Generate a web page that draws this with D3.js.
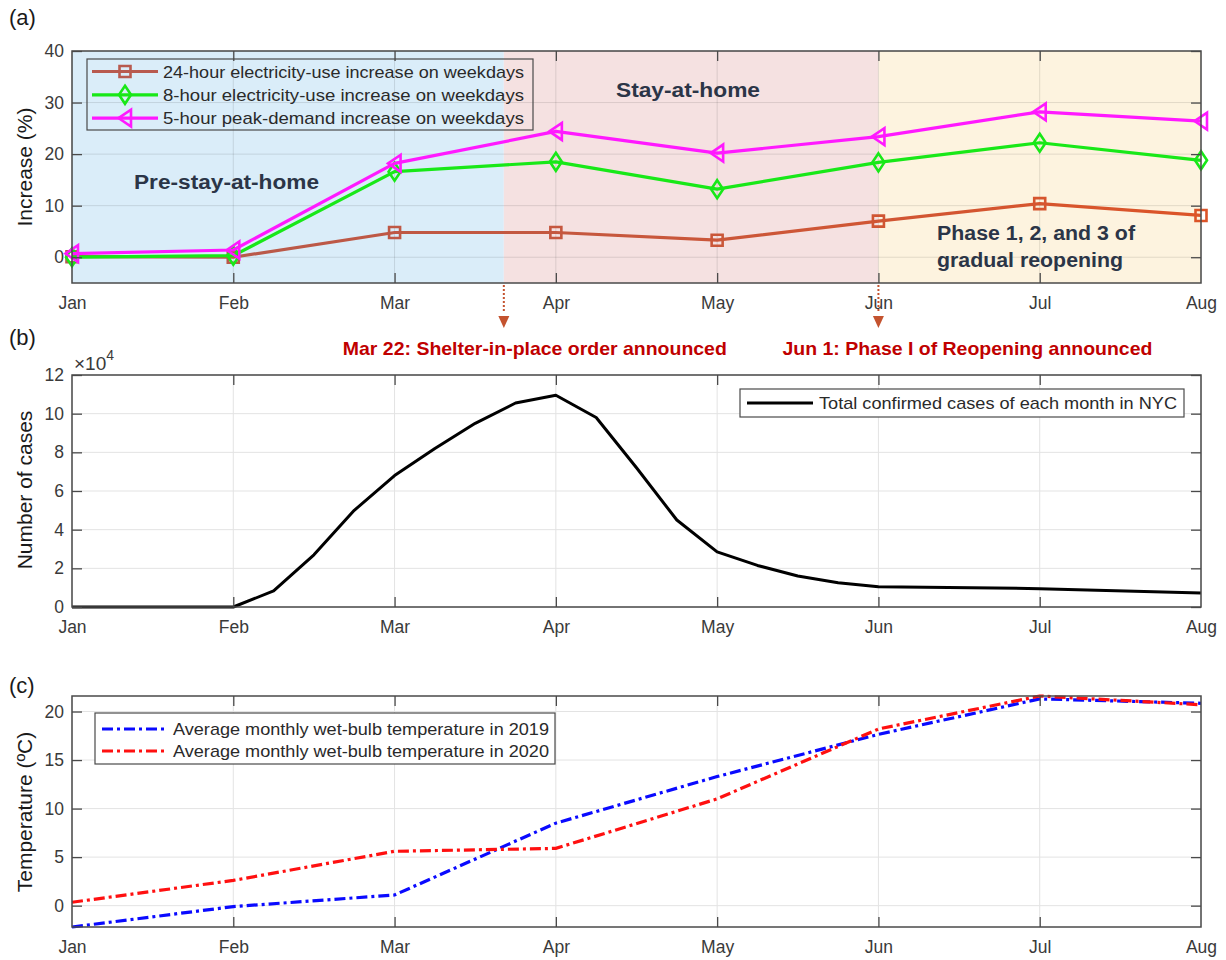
<!DOCTYPE html>
<html>
<head>
<meta charset="utf-8">
<script src="https://cdn.jsdelivr.net/npm/d3@7"></script>
<style>
  body { margin: 0; background: #fff; }
  svg { display: block; font-family: "Liberation Sans", Arial, sans-serif; }
</style>
</head>
<body>
<svg id="fig" width="1226" height="960"></svg>
<script>
// ---------- data ----------
const months = ["Jan", "Feb", "Mar", "Apr", "May", "Jun", "Jul", "Aug"];

// (a) electricity-use increase on weekdays (%)
const use24h  = [0.1, 0.0, 4.8, 4.8, 3.3, 7.0, 10.4, 8.1];
const use8h   = [0.0, 0.3, 16.6, 18.5, 13.2, 18.4, 22.2, 18.8];
const peak5h  = [0.7, 1.4, 18.2, 24.4, 20.2, 23.4, 28.2, 26.4];
const seriesNamesA = [
  "24-hour electricity-use increase on weekdays",
  "8-hour electricity-use increase on weekdays",
  "5-hour peak-demand increase on weekdays"
];
const yTicksA = [0, 10, 20, 30, 40];

// policy phases (month index, fractional): Mar 22 and Jun 1
const shelterStart = 2 + 21 / 31;
const reopenStart = 5;

// (b) confirmed cases in NYC (x 10^4), month index
const casesT = [0, 1, 1.25, 1.5, 1.75, 2, 2.25, 2.5, 2.75, 3, 3.25, 3.5, 3.75, 4, 4.25, 4.5, 4.75, 5, 6, 7];
const casesV = [0, 0, 0.83, 2.7, 5.0, 6.8, 8.2, 9.5, 10.55, 10.95, 9.8, 7.2, 4.5, 2.85, 2.15, 1.6, 1.25, 1.05, 0.95, 0.72];
const yTicksB = [0, 2, 4, 6, 8, 10, 12];

// (c) average monthly wet-bulb temperature (°C)
const wetBulb2019 = [-2.2, -0.1, 1.1, 8.5, 13.3, 17.65, 21.3, 20.85];
const wetBulb2020 = [0.35, 2.6, 5.6, 5.9, 11.0, 18.2, 21.6, 20.7];
const yTicksC = [0, 5, 10, 15, 20];

// ---------- layout ----------
const svg = d3.select("#fig");
const L = 72, R = 1201;
const x = d3.scaleLinear().domain([0, months.length - 1]).range([L, R]);
const axisColor = "#4a4a4a";
const tickText = "#3a3a3a";

function frame(g, y, yTicks, top, bottom, gridColor) {
  // grid
  g.append("g").selectAll("line.vg").data(d3.range(months.length)).join("line")
    .attr("x1", d => x(d)).attr("x2", d => x(d))
    .attr("y1", top).attr("y2", bottom)
    .attr("stroke", gridColor).attr("stroke-width", 1);
  g.append("g").selectAll("line.hg").data(yTicks).join("line")
    .attr("x1", L).attr("x2", R)
    .attr("y1", d => y(d)).attr("y2", d => y(d))
    .attr("stroke", gridColor).attr("stroke-width", 1);
}

function axes(g, y, yTicks, top, bottom, fmt) {
  const tickLen = 10;
  const bx = g.append("g").attr("transform", `translate(0,${bottom})`)
    .call(d3.axisBottom(x).tickValues(d3.range(months.length)).tickFormat(i => months[i])
      .tickSizeInner(-tickLen).tickSizeOuter(0).tickPadding(14));
  const tx = g.append("g").attr("transform", `translate(0,${top})`)
    .call(d3.axisTop(x).tickValues(d3.range(months.length)).tickFormat("")
      .tickSizeInner(-tickLen).tickSizeOuter(0));
  const ly = g.append("g").attr("transform", `translate(${L},0)`)
    .call(d3.axisLeft(y).tickValues(yTicks).tickFormat(fmt || (d => d))
      .tickSizeInner(-tickLen).tickSizeOuter(0).tickPadding(8));
  const ry = g.append("g").attr("transform", `translate(${R},0)`)
    .call(d3.axisRight(y).tickValues(yTicks).tickFormat("")
      .tickSizeInner(-tickLen).tickSizeOuter(0));
  [bx, tx, ly, ry].forEach(a => {
    a.select(".domain").remove();
    a.selectAll(".tick line").attr("stroke", axisColor).attr("stroke-width", 1.3);
    a.selectAll(".tick text").attr("fill", tickText)
      .style("font-size", "17.5px").style("font-family", '"Liberation Sans", Arial, sans-serif');
  });
  // hide the ticks sitting on the box corners
  [bx, tx].forEach(a => a.selectAll(".tick line").filter(d => d === 0 || d === months.length - 1).remove());
  g.append("rect").attr("x", L).attr("y", top).attr("width", R - L).attr("height", bottom - top)
    .attr("fill", "none").attr("stroke", axisColor).attr("stroke-width", 1.5);
}

function yLabel(text, cy) {
  svg.append("text").attr("transform", `translate(32,${cy}) rotate(-90)`)
    .attr("text-anchor", "middle").attr("fill", "#1a1a1a")
    .style("font-size", "21px").text(text);
}

function panelTag(text, yb) {
  svg.append("text").attr("x", 9).attr("y", yb).attr("fill", "#1a1a1a")
    .style("font-size", "22px").text(text);
}

// ================= (a) =================
const topA = 51, botA = 283;
const yA = d3.scaleLinear().domain([-5, 40]).range([botA, topA]);
const gA = svg.append("g");

const phases = [
  { from: 0, to: shelterStart, fill: "#daedf9" },
  { from: shelterStart, to: reopenStart, fill: "#f5e1e1" },
  { from: reopenStart, to: months.length - 1, fill: "#fdf3df" }
];
gA.append("g").selectAll("rect").data(phases).join("rect")
  .attr("x", d => x(d.from)).attr("width", d => x(d.to) - x(d.from))
  .attr("y", topA).attr("height", botA - topA).attr("fill", d => d.fill);

frame(gA, yA, yTicksA, topA, botA, "rgba(0,0,0,0.11)");

// phase labels
const condensed = '"Liberation Sans Narrow", "Liberation Sans", Arial, sans-serif';
const phaseLabels = [
  { t: "Pre-stay-at-home", x: 134, y: 189, w: 185 },
  { t: "Stay-at-home", x: 616, y: 97, w: 144 },
  { t: "Phase 1, 2, and 3 of", x: 937, y: 240, w: 198 },
  { t: "gradual reopening", x: 937, y: 267, w: 186 }
];
gA.append("g").selectAll("text").data(phaseLabels).join("text")
  .attr("x", d => d.x).attr("y", d => d.y).attr("fill", "#2b3547")
  .attr("textLength", d => d.w).attr("lengthAdjust", "spacingAndGlyphs")
  .style("font-family", condensed).style("font-weight", "bold").style("font-size", "20px")
  .text(d => d.t);

// series
const defs = svg.append("defs");
const grad = defs.append("linearGradient").attr("id", "grad24")
  .attr("gradientUnits", "userSpaceOnUse").attr("x1", L).attr("x2", R).attr("y1", 0).attr("y2", 0);
const c24a = "#b35a50", c24b = "#dc5428";
grad.append("stop").attr("offset", 0).attr("stop-color", c24a);
grad.append("stop").attr("offset", 1).attr("stop-color", c24b);
const c24 = d3.interpolateRgb(c24a, c24b);

const markerSquare = "M-5.5,-5.5H5.5V5.5H-5.5Z";
const markerDiamond = "M0,-9L6,0L0,9L-6,0Z";
const markerTriangle = "M-6.5,0L6,-8.5L6,8.5Z";

const seriesA = [
  { vals: use24h, stroke: "url(#grad24)", col: i => c24(i / 7), legendCol: "#b85a4f", marker: markerSquare },
  { vals: use8h, stroke: "#18e818", col: () => "#18e818", legendCol: "#18e818", marker: markerDiamond },
  { vals: peak5h, stroke: "#ff19ff", col: () => "#ff19ff", legendCol: "#ff19ff", marker: markerTriangle }
];
const lineA = d3.line().x((d, i) => x(i)).y(d => yA(d));
seriesA.forEach(s => {
  gA.append("path").datum(s.vals).attr("d", lineA)
    .attr("fill", "none").attr("stroke", s.stroke).attr("stroke-width", 3.2)
    .attr("stroke-linejoin", "round");
  gA.append("g").selectAll("path").data(s.vals).join("path")
    .attr("transform", (d, i) => `translate(${x(i)},${yA(d)})`)
    .attr("d", s.marker).attr("fill", "none")
    .attr("stroke", (d, i) => s.col(i)).attr("stroke-width", 2.6);
});

axes(gA, yA, yTicksA, topA, botA);
yLabel("Increase (%)", 167);
panelTag("(a)", 25);

// legend (a), transparent background
const legA = gA.append("g");
legA.append("rect").attr("x", 87).attr("y", 59).attr("width", 446).attr("height", 71)
  .attr("fill", "none").attr("stroke", "#4a4a4a").attr("stroke-width", 1.2);
seriesA.forEach((s, k) => {
  const yy = 71.5 + k * 23.3;
  legA.append("line").attr("x1", 92).attr("x2", 158).attr("y1", yy).attr("y2", yy)
    .attr("stroke", s.legendCol).attr("stroke-width", 3.2);
  legA.append("path").attr("transform", `translate(125,${yy})`).attr("d", s.marker)
    .attr("fill", "none").attr("stroke", s.legendCol).attr("stroke-width", 2.6);
  legA.append("text").attr("x", 163).attr("y", yy + 6).attr("fill", "#2a2a2a")
    .attr("textLength", 361).attr("lengthAdjust", "spacingAndGlyphs")
    .style("font-size", "17px").text(seriesNamesA[k]);
});

// announcement arrows
const arrowCol = "#c4532f";
const announcements = [
  { at: shelterStart, text: "Mar 22: Shelter-in-place order announced", dx: -161, w: 384 },
  { at: reopenStart, text: "Jun 1: Phase I of Reopening announced", dx: -96, w: 370 }
];
announcements.forEach(a => {
  const ax = x(a.at);
  svg.append("line").attr("x1", ax).attr("x2", ax).attr("y1", botA + 2).attr("y2", 313)
    .attr("stroke", arrowCol).attr("stroke-width", 2).attr("stroke-dasharray", "2,2");
  svg.append("path").attr("d", `M${ax - 5.5},316L${ax + 5.5},316L${ax},328Z`).attr("fill", arrowCol);
  svg.append("text").attr("x", ax + a.dx).attr("y", 355).attr("fill", "#c00000")
    .attr("textLength", a.w).attr("lengthAdjust", "spacingAndGlyphs")
    .style("font-family", condensed).style("font-weight", "bold").style("font-size", "19px")
    .text(a.text);
});

// ================= (b) =================
const topB = 375, botB = 607;
const yB = d3.scaleLinear().domain([0, 12]).range([botB, topB]);
const gB = svg.append("g");
frame(gB, yB, yTicksB, topB, botB, "#e3e3e3");
gB.append("path").datum(casesT.map((t, i) => [t, casesV[i]]))
  .attr("d", d3.line().x(d => x(d[0])).y(d => yB(d[1])))
  .attr("fill", "none").attr("stroke", "#000").attr("stroke-width", 3).attr("stroke-linejoin", "round");
axes(gB, yB, yTicksB, topB, botB);
yLabel("Number of cases", 490);
panelTag("(b)", 345);
const expo = svg.append("text").attr("x", 74).attr("y", 370).attr("fill", tickText).style("font-size", "19px");
expo.append("tspan").text("×10");
expo.append("tspan").attr("dy", -10).style("font-size", "14px").text("4");

const legB = gB.append("g");
legB.append("rect").attr("x", 740).attr("y", 389).attr("width", 444).attr("height", 28)
  .attr("fill", "#fff").attr("stroke", "#4a4a4a").attr("stroke-width", 1.2);
legB.append("line").attr("x1", 747).attr("x2", 813).attr("y1", 403).attr("y2", 403)
  .attr("stroke", "#000").attr("stroke-width", 3);
legB.append("text").attr("x", 819).attr("y", 409).attr("fill", "#2a2a2a")
  .attr("textLength", 358).attr("lengthAdjust", "spacingAndGlyphs")
  .style("font-size", "17px").text("Total confirmed cases of each month in NYC");

// ================= (c) =================
const topC = 696, botC = 927;
const yC = d3.scaleLinear()
  .domain(d3.extent(wetBulb2019.concat(wetBulb2020)))
  .range([botC, topC]);
const gC = svg.append("g");
frame(gC, yC, yTicksC, topC, botC, "#e3e3e3");
const seriesC = [
  { vals: wetBulb2019, col: "#0a0aff", name: "Average monthly wet-bulb temperature in 2019" },
  { vals: wetBulb2020, col: "#ff1010", name: "Average monthly wet-bulb temperature in 2020" }
];
const lineC = d3.line().x((d, i) => x(i)).y(d => yC(d));
const dashDot = "11,4,3,4";
seriesC.forEach(s => {
  gC.append("path").datum(s.vals).attr("d", lineC)
    .attr("fill", "none").attr("stroke", s.col).attr("stroke-width", 3.2)
    .attr("stroke-dasharray", dashDot);
});
axes(gC, yC, yTicksC, topC, botC);
yLabel("Temperature (ºC)", 812);
panelTag("(c)", 693);

const legC = gC.append("g");
legC.append("rect").attr("x", 95).attr("y", 713).attr("width", 460).attr("height", 51)
  .attr("fill", "#fff").attr("stroke", "#4a4a4a").attr("stroke-width", 1.2);
seriesC.forEach((s, k) => {
  const yy = 729 + k * 22;
  legC.append("line").attr("x1", 102).attr("x2", 168).attr("y1", yy).attr("y2", yy)
    .attr("stroke", s.col).attr("stroke-width", 3.2).attr("stroke-dasharray", dashDot);
  legC.append("text").attr("x", 173).attr("y", yy + 6).attr("fill", "#2a2a2a")
    .attr("textLength", 376).attr("lengthAdjust", "spacingAndGlyphs")
    .style("font-size", "17px").text(s.name);
});
</script>
</body>
</html>
